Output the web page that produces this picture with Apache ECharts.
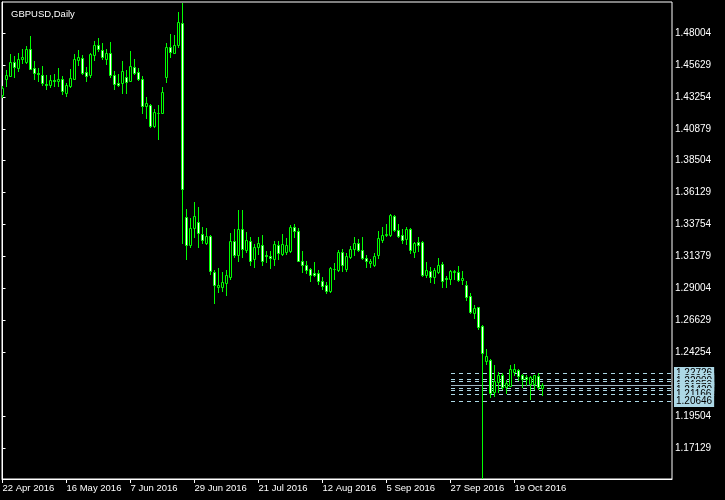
<!DOCTYPE html>
<html><head><meta charset="utf-8">
<script src="https://cdn.jsdelivr.net/npm/echarts@6/dist/echarts.min.js"></script>
<style>html,body{margin:0;padding:0;background:#000;}#c{width:725px;height:500px;}</style>
</head><body><div id="c"></div>
<script>
const chartTitle = 'GBPUSD,Daily';
const dates = [
'22 Apr 2016','25 Apr 2016','26 Apr 2016','27 Apr 2016','28 Apr 2016','29 Apr 2016',
'2 May 2016','3 May 2016','4 May 2016','5 May 2016','6 May 2016','9 May 2016','10 May 2016','11 May 2016','12 May 2016','13 May 2016',
'16 May 2016','17 May 2016','18 May 2016','19 May 2016','20 May 2016','23 May 2016','24 May 2016','25 May 2016','26 May 2016','27 May 2016','30 May 2016','31 May 2016',
'1 Jun 2016','2 Jun 2016','3 Jun 2016','6 Jun 2016','7 Jun 2016','8 Jun 2016','9 Jun 2016','10 Jun 2016','13 Jun 2016','14 Jun 2016','15 Jun 2016','16 Jun 2016','17 Jun 2016',
'20 Jun 2016','21 Jun 2016','22 Jun 2016','23 Jun 2016','24 Jun 2016','27 Jun 2016','28 Jun 2016','29 Jun 2016','30 Jun 2016',
'1 Jul 2016','4 Jul 2016','5 Jul 2016','6 Jul 2016','7 Jul 2016','8 Jul 2016','11 Jul 2016','12 Jul 2016','13 Jul 2016','14 Jul 2016','15 Jul 2016',
'18 Jul 2016','19 Jul 2016','20 Jul 2016','21 Jul 2016','22 Jul 2016','25 Jul 2016','26 Jul 2016','27 Jul 2016','28 Jul 2016','29 Jul 2016',
'1 Aug 2016','2 Aug 2016','3 Aug 2016','4 Aug 2016','5 Aug 2016','8 Aug 2016','9 Aug 2016','10 Aug 2016','11 Aug 2016','12 Aug 2016',
'15 Aug 2016','16 Aug 2016','17 Aug 2016','18 Aug 2016','19 Aug 2016','22 Aug 2016','23 Aug 2016','24 Aug 2016','25 Aug 2016','26 Aug 2016',
'29 Aug 2016','30 Aug 2016','31 Aug 2016','1 Sep 2016','2 Sep 2016','5 Sep 2016','6 Sep 2016','7 Sep 2016','8 Sep 2016','9 Sep 2016',
'12 Sep 2016','13 Sep 2016','14 Sep 2016','15 Sep 2016','16 Sep 2016','19 Sep 2016','20 Sep 2016','21 Sep 2016','22 Sep 2016','23 Sep 2016',
'26 Sep 2016','27 Sep 2016','28 Sep 2016','29 Sep 2016','30 Sep 2016','3 Oct 2016','4 Oct 2016','5 Oct 2016','6 Oct 2016','7 Oct 2016',
'10 Oct 2016','11 Oct 2016','12 Oct 2016','13 Oct 2016','14 Oct 2016','17 Oct 2016','18 Oct 2016','19 Oct 2016','20 Oct 2016','21 Oct 2016',
'24 Oct 2016','25 Oct 2016','26 Oct 2016','27 Oct 2016','28 Oct 2016'
];
const openPrices = [
1.4339,1.4460,1.4483,1.4585,1.4540,1.4609,1.4585,1.4679,1.4540,1.4501,
1.4486,1.4421,1.4411,1.4451,1.4446,1.4456,1.4352,1.4406,1.4460,1.4600,
1.4614,1.4510,1.4486,1.4639,1.4709,1.4674,1.4605,1.4654,1.4486,1.4426,
1.4426,1.4471,1.4446,1.4550,1.4510,1.4456,1.4257,1.4262,1.4108,1.4207,
1.4207,1.4471,1.4694,1.4654,1.4713,1.4873,1.3429,1.3225,1.3350,1.3394,
1.3305,1.3240,1.3290,1.3022,1.2908,1.2913,1.2943,1.2983,1.3251,1.3146,
1.3340,1.3186,1.3255,1.3117,1.3206,1.3221,1.3146,1.3141,1.3121,1.3221,
1.3156,1.3171,1.3176,1.3355,1.3325,1.3102,1.3072,1.3042,1.3013,1.3013,
1.2953,1.2923,1.2879,1.3042,1.3037,1.3171,1.3047,1.3136,1.3196,1.3236,
1.3186,1.3126,1.3087,1.3072,1.3146,1.3260,1.3295,1.3295,1.3439,1.3335,
1.3295,1.3266,1.3344,1.3171,1.3245,1.3245,1.2998,1.3027,1.2983,1.3022,
1.3082,1.2978,1.2972,1.3022,1.3022,1.2963,1.2923,1.2844,1.2720,1.2760,
1.2620,1.2362,1.2368,1.2129,1.2204,1.2258,1.2164,1.2174,1.2278,1.2293,
1.2258,1.2239,1.2189,1.2189,1.2248,1.2159
];
const closePrices = [
1.4391,1.4486,1.4585,1.4545,1.4609,1.4624,1.4679,1.4535,1.4501,1.4495,
1.4431,1.4411,1.4451,1.4446,1.4456,1.4367,1.4411,1.4466,1.4605,1.4620,
1.4505,1.4480,1.4644,1.4709,1.4679,1.4624,1.4649,1.4486,1.4421,1.4416,
1.4520,1.4436,1.4555,1.4505,1.4460,1.4257,1.4277,1.4108,1.4213,1.4203,
1.4361,1.4694,1.4659,1.4709,1.4882,1.3638,1.3225,1.3350,1.3439,1.3310,
1.3260,1.3290,1.3027,1.2928,1.2928,1.2948,1.2998,1.3251,1.3151,1.3344,
1.3191,1.3260,1.3106,1.3210,1.3236,1.3106,1.3141,1.3126,1.3231,1.3166,
1.3231,1.3221,1.3355,1.3325,1.3106,1.3072,1.3037,1.3002,1.3002,1.2957,
1.2918,1.2883,1.3052,1.3047,1.3171,1.3077,1.3141,1.3196,1.3236,1.3186,
1.3126,1.3106,1.3106,1.3141,1.3275,1.3295,1.3305,1.3449,1.3335,1.3290,
1.3260,1.3340,1.3186,1.3240,1.3225,1.2998,1.3037,1.2987,1.3037,1.3077,
1.2957,1.2968,1.3027,1.3032,1.2963,1.2978,1.2838,1.2725,1.2754,1.2615,
1.2422,1.2397,1.2120,1.2209,1.2254,1.2164,1.2194,1.2303,1.2303,1.2248,
1.2228,1.2224,1.2243,1.2254,1.2164,1.2185
];
const lowPrices = [
1.4324,1.4406,1.4480,1.4475,1.4515,1.4575,1.4579,1.4533,1.4460,1.4441,
1.4416,1.4386,1.4396,1.4406,1.4406,1.4347,1.4332,1.4396,1.4456,1.4565,
1.4495,1.4446,1.4475,1.4600,1.4669,1.4605,1.4570,1.4471,1.4386,1.4406,
1.4356,1.4356,1.4441,1.4495,1.4451,1.4205,1.4168,1.4103,1.4103,1.4014,
1.4203,1.4436,1.4620,1.4649,1.4698,1.3236,1.3121,1.3206,1.3285,1.3206,
1.3236,1.3231,1.3007,1.2794,1.2873,1.2883,1.2853,1.2972,1.3136,1.3106,
1.3136,1.3171,1.3072,1.3057,1.3156,1.3072,1.3097,1.3052,1.3072,1.3121,
1.3146,1.3156,1.3171,1.3280,1.3102,1.3022,1.3017,1.2957,1.2992,1.2933,
1.2898,1.2868,1.2873,1.2972,1.3027,1.3027,1.3032,1.3126,1.3151,1.3176,
1.3121,1.3062,1.3062,1.3067,1.3126,1.3245,1.3290,1.3290,1.3325,1.3280,
1.3240,1.3231,1.3166,1.3136,1.3181,1.2992,1.2983,1.2948,1.2943,1.3013,
1.2913,1.2913,1.2933,1.2972,1.2953,1.2933,1.2814,1.2720,1.2680,1.2600,
1.1484,1.2338,1.2090,1.2100,1.2129,1.2150,1.2124,1.2172,1.2254,1.2219,
1.2164,1.2184,1.2075,1.2154,1.2154,1.2105
];
const highPrices = [
1.4406,1.4525,1.4644,1.4629,1.4649,1.4679,1.4704,1.4778,1.4594,1.4540,
1.4555,1.4486,1.4486,1.4495,1.4540,1.4480,1.4426,1.4530,1.4644,1.4674,
1.4635,1.4550,1.4654,1.4739,1.4763,1.4724,1.4679,1.4733,1.4520,1.4495,
1.4594,1.4525,1.4669,1.4605,1.4540,1.4480,1.4326,1.4272,1.4233,1.4262,
1.4396,1.4728,1.4793,1.4783,1.4957,1.5026,1.3493,1.3424,1.3543,1.3508,
1.3359,1.3350,1.3295,1.3037,1.3052,1.3022,1.3037,1.3310,1.3344,1.3484,
1.3484,1.3320,1.3285,1.3231,1.3285,1.3300,1.3176,1.3181,1.3251,1.3255,
1.3305,1.3275,1.3374,1.3379,1.3350,1.3176,1.3102,1.3052,1.3097,1.3037,
1.2983,1.2948,1.3057,1.3087,1.3186,1.3191,1.3161,1.3216,1.3285,1.3266,
1.3285,1.3146,1.3121,1.3161,1.3325,1.3355,1.3379,1.3454,1.3449,1.3379,
1.3340,1.3355,1.3350,1.3245,1.3280,1.3251,1.3097,1.3057,1.3052,1.3126,
1.3097,1.2992,1.3037,1.3037,1.3067,1.3027,1.2953,1.2864,1.2774,1.2764,
1.2625,1.2447,1.2372,1.2328,1.2278,1.2268,1.2219,1.2328,1.2338,1.2298,
1.2263,1.2254,1.2248,1.2258,1.2273,1.2199
];
const xTickIndex = [0,16,32,48,64,80,96,112,128];
const yTickValues = [1.17129,1.19504,1.24254,1.26629,1.29004,1.31379,1.33754,1.36129,1.38504,1.40879,1.43254,1.45629,1.48004];
const levelPrices = [1.22726,1.22240,1.22090,1.21850,1.21570,1.21420,1.21166,1.20646];
const bidPrice = 1.21850;
const levelStartIndex = 112;

const FONT = '"Liberation Sans", Arial, sans-serif';
const GREEN = '#00ff00';
const candleData = openPrices.map((o, i) => [i, o, closePrices[i], lowPrices[i], highPrices[i]]);
const levelData = levelPrices.map(p => [levelStartIndex, p, p === bidPrice ? 1 : 0]);

function renderCandle(params, api) {
  const i = api.value(0), o = api.value(1), c = api.value(2), l = api.value(3), h = api.value(4);
  const po = api.coord([i, o]), pc = api.coord([i, c]), pl = api.coord([i, l]), ph = api.coord([i, h]);
  const cx = Math.floor(po[0]) + 0.5;
  const yo = Math.round(po[1]), yc = Math.round(pc[1]), yl = Math.round(pl[1]), yh = Math.round(ph[1]);
  const top = Math.min(yo, yc), bot = Math.max(yo, yc);
  const bear = c < o;
  return {
    type: 'group',
    children: [
      { type: 'line', shape: { x1: cx, y1: yh, x2: cx, y2: yl + 1 }, style: { stroke: GREEN, lineWidth: 1 } },
      { type: 'rect', shape: { x: cx - 1, y: top + 0.5, width: 2, height: bot - top },
        style: { fill: bear ? '#ffffff' : '#000000', stroke: GREEN, lineWidth: 1 } }
    ]
  };
}

function renderLevel(params, api) {
  const p = api.value(1);
  const solid = api.value(2) === 1;
  const cs = params.coordSys;
  const pt = api.coord([api.value(0), p]);
  const yr = Math.round(pt[1]);
  const y = yr + 0.5;
  const xEnd = cs.x + cs.width;
  const xStart = Math.round(pt[0]);
  return {
    type: 'group',
    children: [
      { type: 'line', shape: { x1: xStart, y1: y, x2: xEnd, y2: y },
        style: { stroke: solid ? '#9fb8c4' : '#add8e6', lineWidth: 1, lineDash: solid ? null : [4, 4] } },
      { type: 'text', x: xEnd + 2, y: yr,
        style: { text: p.toFixed(5), fill: '#000000', font: '10px ' + FONT, backgroundColor: '#add8e6',
                 padding: [1, 2, 1, 2], verticalAlign: 'middle', align: 'left' } }
    ]
  };
}

const chart = echarts.init(document.getElementById('c'), null, { renderer: 'canvas' });
chart.setOption({
  animation: false,
  backgroundColor: '#000000',
  title: { text: chartTitle, left: 6, top: 4, textStyle: { color: '#ffffff', fontSize: 9.5, fontWeight: 'normal', fontFamily: FONT } },
  grid: { left: 2, top: 2, right: 53, bottom: 21, containLabel: false, outerBoundsMode: 'none',
          show: true, borderColor: '#ffffff', borderWidth: 1, backgroundColor: '#000000' },
  xAxis: {
    type: 'value', min: -0.125, max: 167.375, position: 'bottom',
    axisLine: { show: true, lineStyle: { color: '#ffffff', width: 1 } },
    axisTick: { show: true, customValues: xTickIndex, length: 4, inside: false, lineStyle: { color: '#ffffff' } },
    axisLabel: { show: true, customValues: xTickIndex, formatter: v => dates[Math.round(v)] || '',
                 color: '#ffffff', fontSize: 9.5, fontFamily: FONT, align: 'left', margin: 4 },
    splitLine: { show: false }
  },
  yAxis: {
    type: 'value', position: 'right', min: 1.14822, max: 1.50310,
    axisLine: { show: true, lineStyle: { color: '#ffffff', width: 1 } },
    axisTick: { show: true, customValues: yTickValues, length: 3, inside: false, lineStyle: { color: '#ffffff' } },
    axisLabel: { show: true, customValues: yTickValues, formatter: v => v.toFixed(5),
                 color: '#ffffff', fontSize: 10, fontFamily: FONT, margin: 3 },
    splitLine: { show: false }
  },
  series: [
    { type: 'custom', name: 'levels', renderItem: renderLevel, data: levelData, clip: false, z: 1, silent: true,
      encode: { x: 0, y: 1 } },
    { type: 'custom', name: 'GBPUSD', renderItem: renderCandle, data: candleData, clip: true, z: 2, silent: true,
      encode: { x: 0, y: [1, 2, 3, 4] } }
  ]
});
</script>
</body></html>
